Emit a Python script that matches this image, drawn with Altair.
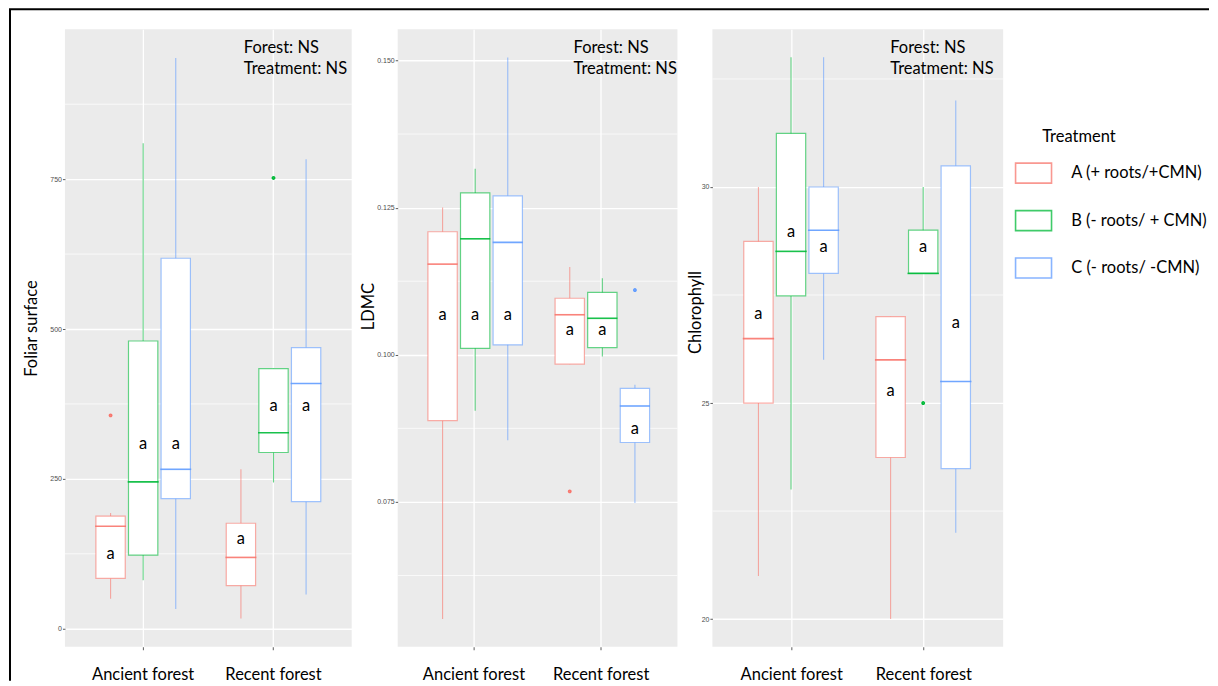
import altair as alt
import pandas as pd

forests = ["Ancient forest", "Recent forest"]
treatments = ["A (+ roots/+CMN)", "B (- roots/ + CMN)", "C (- roots/ -CMN)"]
treat_colors = ["#F8766D", "#00BA38", "#619CFF"]
letters = ["a", "a", "a", "a", "a", "a"]

# group order: Ancient A, B, C then Recent A, B, C
group_forest = [forests[0]] * 3 + [forests[1]] * 3
group_treat = treatments * 2

# Foliar surface
fol_lower = [50, 81, 33, 17, 244, 57]
fol_q1 = [84, 123, 217, 72, 294, 212]
fol_median = [171, 245, 266, 119, 327, 409]
fol_q3 = [188, 480, 618, 176, 434, 469]
fol_upper = [193, 810, 952, 266, 434, 783]
fol_letter_y = [125, 308, 308, 150, 372, 372]
fol_out_forest = ["Ancient forest", "Recent forest"]
fol_out_treat = [treatments[0], treatments[1]]
fol_out_value = [356, 752]
fol_ticks = [0, 250, 500, 750]
fol_minor = [125, 375, 625, 875]
fol_domain = [-30, 1000]

# LDMC
ldmc_lower = [0.0551, 0.0905, 0.0855, 0.0984, 0.0997, 0.0748]
ldmc_q1 = [0.0888, 0.1011, 0.1017, 0.0984, 0.1012, 0.0851]
ldmc_median = [0.1154, 0.1197, 0.1191, 0.1068, 0.1062, 0.0913]
ldmc_q3 = [0.1209, 0.1275, 0.1270, 0.1096, 0.1106, 0.0943]
ldmc_upper = [0.1250, 0.1316, 0.1505, 0.1149, 0.1130, 0.0949]
ldmc_letter_y = [0.1068, 0.1068, 0.1068, 0.1042, 0.1042, 0.0874]
ldmc_out_forest = ["Recent forest", "Recent forest"]
ldmc_out_treat = [treatments[0], treatments[2]]
ldmc_out_value = [0.0768, 0.1110]
ldmc_ticks = [0.075, 0.100, 0.125, 0.150]
ldmc_minor = [0.0625, 0.0875, 0.1125, 0.1375]
ldmc_domain = [0.0504, 0.1553]

# Chlorophyll
chl_lower = [21.0, 23.0, 26.0, 20.0, 28.0, 22.0]
chl_q1 = [25.0, 27.48, 28.0, 23.74, 28.0, 23.48]
chl_median = [26.49, 28.51, 29.0, 26.0, 28.0, 25.5]
chl_q3 = [28.74, 31.24, 30.0, 27.0, 29.0, 30.49]
chl_upper = [30.0, 33.0, 33.0, 27.0, 30.0, 32.0]
chl_letter_y = [27.06, 28.96, 28.6, 25.29, 28.6, 26.86]
chl_out_forest = ["Recent forest"]
chl_out_treat = [treatments[1]]
chl_out_value = [25.0]
chl_ticks = [20, 25, 30]
chl_minor = [22.5, 27.5, 32.5]
chl_domain = [19.36, 33.65]

annotation = ["Forest: NS", "Treatment: NS"]

FONT = "Lato"
FS = 16.5
PANEL_H = 618

legend = alt.Legend(
    title="Treatment", orient="none", legendX=978, legendY=100,
    symbolType="M-1.8,-1H1.8V1H-1.8Z", symbolSize=400, symbolStrokeWidth=1.6,
    symbolFillColor="white", symbolOpacity=0.75, symbolOffset=-19.6, labelOffset=26.7,
    labelFont=FONT, labelFontSize=FS, labelColor="black",
    titleFont=FONT, titleFontSize=FS, titleFontWeight="normal", titleColor="black",
    titlePadding=16.5, rowPadding=19.5, padding=0,
)


def panel(name, lower, q1, med, q3, upper, letter_y, out_f, out_t, out_v,
          domain, major, minor, fmt, width, title_x, title_y, ann_x, frame=False):
    df = pd.DataFrame({
        "forest": group_forest, "treatment": group_treat,
        "lower": lower, "q1": q1, "median": med, "q3": q3, "upper": upper,
        "letter_y": letter_y, "letter": letters,
    })
    odf = pd.DataFrame({"forest": out_f, "treatment": out_t, "value": out_v})
    box_w = width / 2.2 * 0.225

    ys = alt.Scale(domain=domain, nice=False, zero=False)
    yaxis = alt.Axis(
        values=major, format=fmt, labelFont="Liberation Sans", labelFontSize=7,
        labelColor="#4D4D4D", tickColor="#333333", tickSize=2.5, tickWidth=0.8,
        labelPadding=1, domain=False, grid=True, gridColor="white", gridWidth=1.3,
        titleFont=FONT, titleFontSize=FS, titleFontWeight="normal", titleColor="black",
        titleX=title_x, titleY=title_y, titleBaseline="middle",
    )

    def Y(f):
        return alt.Y(f"{f}:Q", scale=ys, axis=yaxis, title=name)

    xaxis = alt.Axis(
        labelAngle=0, labelFont=FONT, labelFontSize=FS, labelColor="black",
        labelPadding=16.5, tickSize=3, tickColor="#333333", tickWidth=0.8,
        domain=False, grid=True, gridColor="white", gridWidth=1.3, bandPosition=0.5,
    )
    X = alt.X("forest:N", scale=alt.Scale(domain=forests, paddingInner=0.25, paddingOuter=0.225),
              axis=xaxis, title=None)
    XO = alt.XOffset("treatment:N", scale=alt.Scale(domain=treatments, paddingInner=0.1, paddingOuter=0.05))
    cscale = alt.Scale(domain=treatments, range=treat_colors)
    S = alt.Stroke("treatment:N", scale=cscale, legend=legend)

    minor_grid = alt.Chart(pd.DataFrame({"v": minor})).mark_rule(color="white", strokeWidth=0.7).encode(y=Y("v"))
    base = alt.Chart(df)
    whisk = base.mark_rule(strokeWidth=1.1, opacity=0.6).encode(x=X, xOffset=XO, y=Y("lower"), y2="upper:Q", stroke=S)
    box = base.mark_bar(filled=False, fill="white", strokeWidth=1.2, strokeOpacity=0.6).encode(
        x=X, xOffset=XO, y=Y("q1"), y2="q3:Q", stroke=S)
    medl = base.mark_tick(filled=False, thickness=0.01, size=box_w, strokeWidth=1.6, opacity=0.9).encode(
        x=X, xOffset=XO, y=Y("median"), stroke=S)
    outl = alt.Chart(odf).mark_point(filled=False, shape="circle", size=3, strokeWidth=2.2, opacity=1).encode(
        x=X, xOffset=XO, y=Y("value"), stroke=S)
    lett = base.mark_text(fontSize=FS, font=FONT, color="black", baseline="middle").encode(
        x=X, xOffset=XO, y=Y("letter_y"), text="letter:N")
    ann = alt.Chart(pd.DataFrame({"d": [0]})).mark_text(
        text=annotation, align="left", baseline="alphabetic", lineHeight=21.4,
        fontSize=FS, font=FONT, color="black").encode(x=alt.value(ann_x), y=alt.value(23.4))
    layers = [minor_grid, whisk, box, medl, outl, lett, ann]
    if frame:
        one = alt.Chart(pd.DataFrame({"d": [0]}))
        layers.append(one.mark_rule(color="black", strokeWidth=2).encode(
            x=alt.value(-55), y=alt.value(-20), y2=alt.value(652)))
        layers.append(one.mark_rule(color="black", strokeWidth=2).encode(
            x=alt.value(-56), x2=alt.value(1145), y=alt.value(-20)))
    return alt.layer(*layers).properties(width=width, height=PANEL_H)


def spacer(w):
    return alt.Chart(pd.DataFrame({"d": [0]})).mark_point(opacity=0).encode(
        x=alt.value(0), y=alt.value(0)
    ).properties(width=w, height=PANEL_H, view=alt.ViewBackground(fill="transparent", strokeWidth=0))


p1 = panel("Foliar surface", fol_lower, fol_q1, fol_median, fol_q3, fol_upper, fol_letter_y,
           fol_out_forest, fol_out_treat, fol_out_value, fol_domain, fol_ticks, fol_minor, "d",
           287, -33, 299, 179, frame=True)
p2 = panel("LDMC", ldmc_lower, ldmc_q1, ldmc_median, ldmc_q3, ldmc_upper, ldmc_letter_y,
           ldmc_out_forest, ldmc_out_treat, ldmc_out_value, ldmc_domain, ldmc_ticks, ldmc_minor, ".3f",
           280, -29, 277, 176)
p3 = panel("Chlorophyll", chl_lower, chl_q1, chl_median, chl_q3, chl_upper, chl_letter_y,
           chl_out_forest, chl_out_treat, chl_out_value, chl_domain, chl_ticks, chl_minor, "d",
           291, -17, 283, 178)

chart = alt.hconcat(p1, spacer(46), p2, spacer(35), p3, spacing=0, bounds="flush").properties(
    padding=0
).configure_view(fill="#EBEBEB", strokeWidth=0)

chart.save("out.html", embed_options={"renderer": "svg", "actions": False})
